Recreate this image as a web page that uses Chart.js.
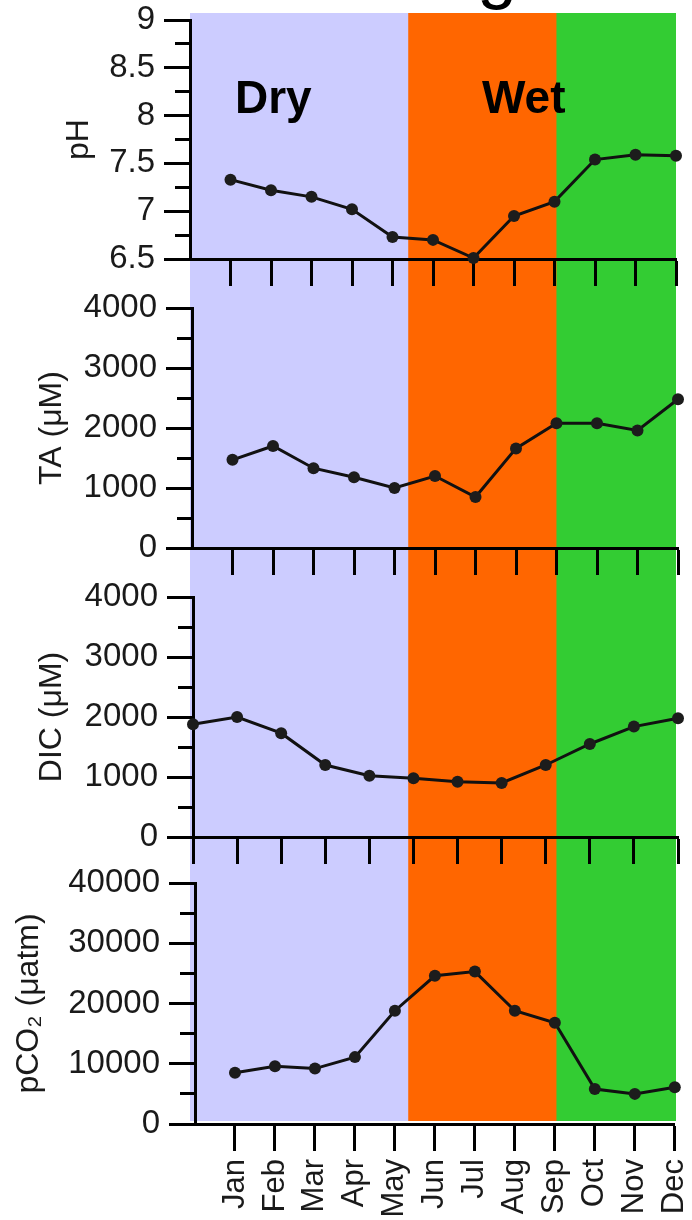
<!DOCTYPE html>
<html>
<head>
<meta charset="utf-8">
<script src="https://cdn.jsdelivr.net/npm/chart.js@4.4.1/dist/chart.umd.min.js"></script>
<style>
  html, body { margin: 0; padding: 0; background: #fff; width: 692px; height: 1220px; overflow: hidden; position: relative; }
  canvas { position: absolute; left: 0; }
  .season { position: absolute; font: bold 46px "Liberation Sans", Arial, sans-serif; line-height: 46px; color: #000; white-space: nowrap; }
  .cut { position: absolute; font: 72px "Liberation Sans", Arial, sans-serif; line-height: 72px; color: #000; }
</style>
</head>
<body>
<canvas id="bands" width="720" height="1220" style="top:0px"></canvas>
<div class="cut" style="left:477px; top:-66px">g</div>
<div class="season" style="left:235px; top:74px">Dry</div>
<div class="season" style="left:482px; top:74px">Wet</div>
<canvas id="phChart" width="720" height="320" style="top:-30px"></canvas>
<canvas id="taChart" width="720" height="320" style="top:260px"></canvas>
<canvas id="dicChart" width="720" height="320" style="top:550px"></canvas>
<canvas id="pco2Chart" width="720" height="380" style="top:840px"></canvas>

<script>
// monthly means
const months = ["Jan", "Feb", "Mar", "Apr", "May", "Jun", "Jul", "Aug", "Sep", "Oct", "Nov", "Dec"];
const monthPos = [1, 2, 3, 4, 5, 6, 7, 8, 9, 10, 11, 12];

const phValues = [7.33, 7.22, 7.15, 7.02, 6.73, 6.70, 6.51, 6.95, 7.10, 7.54, 7.59, 7.58];
const taValues = [1470, 1700, 1330, 1180, 1000, 1200, 850, 1660, 2080, 2080, 1960, 2480];
const dicValues = [1880, 2000, 1730, 1200, 1020, 980, 920, 900, 1200, 1550, 1840, 1980];
const pco2Values = [8500, 9600, 9200, 11100, 18800, 24600, 25300, 18800, 16800, 5800, 5000, 6100];

// labelled y ticks (minor ticks sit halfway between)
const phTicks = [6.5, 7, 7.5, 8, 8.5, 9];
const taTicks = [0, 1000, 2000, 3000, 4000];
const dicTicks = [0, 1000, 2000, 3000, 4000];
const pco2Ticks = [0, 10000, 20000, 30000, 40000];

// seasons, in months on the pH axis
const seasonNames = ["Dry", "Wet", "Wet (late)"];
const seasonStart = [0, 5.38, 9.04];
const seasonEnd = [5.38, 9.04, 12.17];
const seasonColors = ["#ccccff", "#ff6600", "#33cc33"];

const FONT = "'Liberation Sans', Arial, sans-serif";
const INK = "#1a1a1a";

Chart.defaults.font.family = FONT;
Chart.defaults.color = INK;

// background bands, one floating bar per season
new Chart(document.getElementById("bands"), {
  type: "bar",
  data: {
    labels: ["season"],
    datasets: seasonNames.map((name, i) => ({
      label: name,
      data: [[seasonStart[i], seasonEnd[i]]],
      backgroundColor: seasonColors[i],
      borderWidth: 0,
      barPercentage: 1,
      categoryPercentage: 1,
      grouped: false,
    })),
  },
  options: {
    indexAxis: "y",
    responsive: false,
    animation: false,
    layout: { padding: { left: 190, right: 44, top: 13, bottom: 99 } },
    plugins: { legend: { display: false }, tooltip: { enabled: false } },
    scales: {
      x: { type: "linear", min: 0, max: 12, display: false },
      y: { display: false },
    },
  },
});

function panel(id, p) {
  const el = document.getElementById(id);
  return new Chart(el, {
    type: "line",
    data: {
      datasets: [
        {
          label: p.title,
          data: monthPos.map((m, i) => ({ x: m, y: p.values[i] })),
          borderColor: "#111",
          borderWidth: 3,
          pointRadius: 6,
          pointBackgroundColor: "#1c1c1c",
          pointBorderWidth: 0,
          tension: 0,
          clip: false,
        },
      ],
    },
    options: {
      responsive: false,
      animation: false,
      layout: { padding: { left: 0, top: p.padTop, right: el.width - p.right, bottom: 0 } },
      plugins: { legend: { display: false }, tooltip: { enabled: false } },
      scales: {
        x: {
          type: "linear",
          min: p.xMin,
          max: 12,
          afterBuildTicks: (s) => {
            s.ticks = s.ticks.filter((t) => t.value >= 1);
          },
          afterFit: (s) => {
            s.height = p.xHeight;
          },
          ticks: {
            stepSize: 1,
            autoSkip: false,
            display: p.showMonths,
            minRotation: 90,
            maxRotation: 90,
            padding: 8,
            color: INK,
            font: { size: 31 },
            callback: (v) => months[v - 1],
          },
          grid: { drawOnChartArea: false, tickLength: 27, tickWidth: 3, tickColor: "#000" },
          border: { color: "#000", width: 3 },
        },
        y: {
          min: p.yTicks[0],
          max: p.yTicks[p.yTicks.length - 1],
          afterFit: (s) => {
            s.width = p.left;
          },
          ticks: {
            stepSize: (p.yTicks[1] - p.yTicks[0]) / 2,
            autoSkip: false,
            padding: 9,
            color: INK,
            font: { size: 33 },
            callback: (v) => (p.yTicks.includes(v) ? String(v) : ""),
          },
          grid: {
            drawOnChartArea: false,
            tickLength: 26,
            tickWidth: 3,
            tickColor: "#000",
            tickBorderDash: (ctx) => (ctx.tick && !p.yTicks.includes(ctx.tick.value) ? [0, 11, 100] : []),
          },
          border: { color: "#000", width: 3 },
          title: {
            display: true,
            text: p.title,
            color: INK,
            font: { size: 32 },
            padding: { top: p.titlePad, bottom: 0 },
          },
        },
      },
    },
  });
}

panel("phChart", {
  title: "pH", values: phValues, yTicks: phTicks,
  xMin: 0, left: 190, right: 676, padTop: 50, xHeight: 31, titlePad: 60, showMonths: false,
});
panel("taChart", {
  title: "TA (\u03bcM)", values: taValues, yTicks: taTicks,
  xMin: 0, left: 192, right: 678, padTop: 48, xHeight: 32, titlePad: 33, showMonths: false,
});
panel("dicChart", {
  title: "DIC (\u03bcM)", values: dicValues, yTicks: dicTicks,
  xMin: 1, left: 193, right: 678, padTop: 47, xHeight: 33, titlePad: 33, showMonths: false,
});
panel("pco2Chart", {
  title: "pCO\u2082 (\u03bcatm)", values: pco2Values, yTicks: pco2Ticks,
  xMin: 0, left: 195, right: 680, padTop: 43, xHeight: 96, titlePad: 10, showMonths: true,
});
</script>
</body>
</html>
